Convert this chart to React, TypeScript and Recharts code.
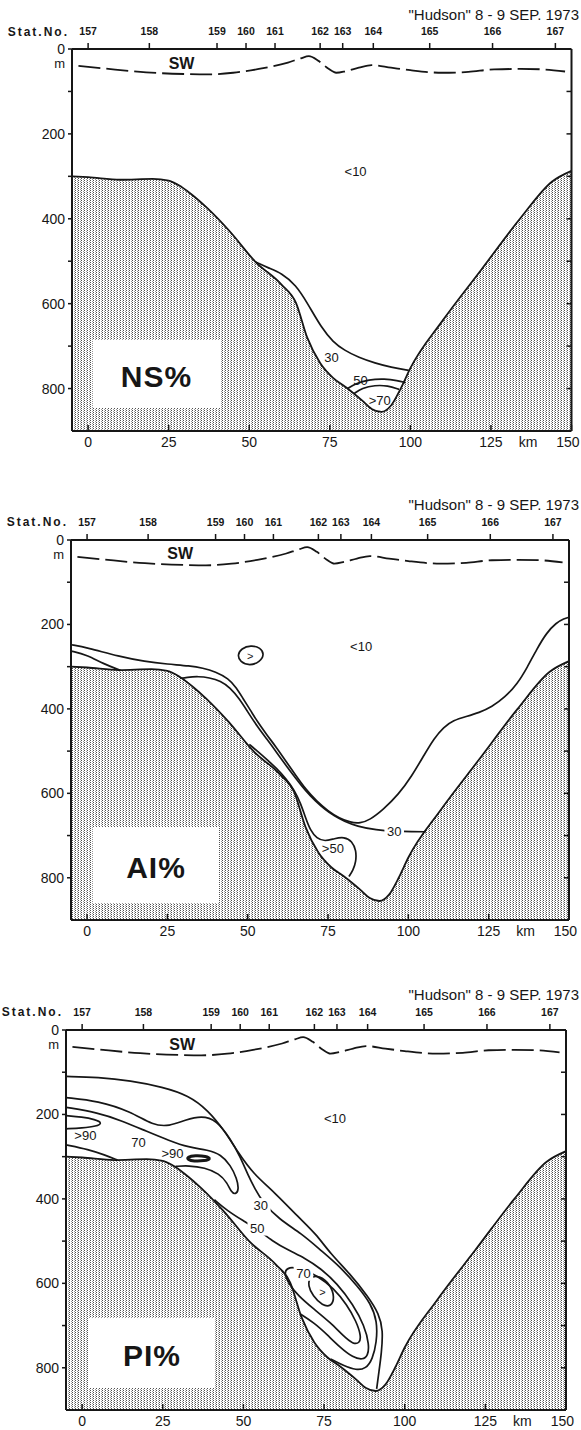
import { ComposedChart, Area, Line, Scatter, XAxis, YAxis } from "recharts"

const FONT = '"Liberation Sans", Arial, Helvetica, sans-serif'
const INK = "#161616"

// axes
const kmTicks = [0, 25, 50, 75, 100, 125, 150]
const KM_UNIT = 136.5
const depthTicks = [0, 100, 200, 300, 400, 500, 600, 700, 800]
const depthLabelled = [0, 200, 400, 600, 800]
const stationKm = [0, 19, 40, 49, 58, 72, 79, 88.5, 106, 125.5, 145]
const stationNo = ["157", "158", "159", "160", "161", "162", "163", "164", "165", "166", "167"]

// bottom topography (km, depth m)
const bottomKm = [-5, 0, 10, 20, 25, 29, 33, 37, 44, 52, 60, 64.5, 68, 72, 76, 80, 85, 88, 91, 94, 97, 100, 110, 122, 134, 144, 150]
const bottomDepth = [300, 302, 308, 306, 310, 325, 348, 375, 430, 502, 555, 598, 680, 740, 775, 797, 828, 848, 855, 840, 800, 752, 640, 520, 400, 312, 287]

// surface water boundary (dashed)
const swKm = [-3, 5, 18, 30, 37, 45, 53, 62, 66, 68.5, 71.5, 74.5, 77, 80, 84, 88, 94, 100, 110, 118, 126, 134, 141, 148]
const swDepth = [40, 46, 55, 59, 60, 56, 47, 32, 22, 17, 28, 46, 56, 52, 44, 38, 44, 50, 56, 54, 48, 47, 48, 53]

// NS % isolines  [km, depth]
const ns30 = [[52, 502], [56, 516], [60, 528], [64.5, 556], [68, 598], [72.5, 658], [76, 690], [79.5, 710], [84, 727], [89, 740], [94, 750], [99.5, 757]]
const ns50 = [[80.5, 800], [83, 788], [87, 779], [92, 777], [96, 781], [98.5, 786]]
const ns70 = [[82.5, 812], [85, 799], [89, 792], [93, 793], [96.5, 802]]
const nsLabels = [
  { km: 83, d: 288, t: "<10" },
  { km: 75.5, d: 726, t: "30" },
  { km: 84.5, d: 781, t: "50" },
  { km: 90.5, d: 828, t: ">70" },
  { km: 29, d: 34, t: "SW" },
]

// AI % isolines
const ai10 = [[-5, 248], [0, 255], [10, 276], [18, 288], [25, 294], [32, 298], [36, 303], [40, 312], [44, 328], [46.5, 350], [48.5, 375], [51, 405], [53, 430], [56, 462], [59, 492], [62, 525], [65, 558], [68, 590], [71.5, 619], [75, 642], [78.5, 659], [82, 669], [85, 671], [88, 663], [92, 640], [97, 602], [101, 560], [105, 508], [108, 470], [111, 443], [114, 427], [118, 418], [122, 409], [126, 395], [130, 373], [134, 340], [137, 302], [140, 258], [143, 220], [146, 196], [148.5, 186], [150, 183]]
const ai30a = [[-5, 263], [0, 272], [5, 293], [10.5, 309]]
const ai30 = [[29, 328], [31, 325], [34.7, 323], [38, 326], [41.6, 334], [44.5, 350], [47.4, 376], [50, 407], [53, 442], [56, 472], [59, 503], [62, 535], [65, 565], [68, 594], [71, 618], [74, 638], [77, 654], [80, 666], [84, 678], [90, 687], [96, 690], [101, 691], [105.5, 691]]
const ai50 = [[50.5, 484], [53, 500], [56, 520], [59, 541], [62, 566], [64.5, 592], [66.5, 624], [68, 658], [69.5, 688], [71.5, 707], [74, 714], [77, 707], [80, 703], [82.5, 713], [83.8, 736], [83.7, 762], [82.8, 782], [81.5, 797]]
const aiLoop = [[46.8, 272], [48, 257], [51, 249], [54, 255], [55.2, 271], [53.8, 289], [50.6, 298], [47.6, 289]]
const aiLabels = [
  { km: 85.3, d: 252, t: "<10" },
  { km: 95.6, d: 690, t: "30" },
  { km: 76.5, d: 731, t: ">50" },
  { km: 50.8, d: 274, t: ">" },
  { km: 29, d: 31, t: "SW" },
]

// PI % isolines
const pi10 = [[-5, 110], [5, 112], [15, 120], [25, 135], [33, 155], [39, 190], [44, 237], [48.5, 292], [53, 340], [60, 387], [67, 443], [72.5, 483], [77, 530], [83, 577], [88.7, 632], [92, 672], [93.3, 711], [92.8, 765], [92, 810], [91.3, 850]]
const pi30 = [[-5, 160], [5, 168], [15, 193], [22, 226], [27, 228], [32, 213], [37, 203], [41.6, 213], [46, 258], [49, 300], [51.5, 345], [53.5, 375], [56, 408], [61, 448], [68, 482], [74, 522], [80, 561], [85.5, 608], [89.5, 648], [91.5, 690], [91.3, 740], [90, 780], [88, 802], [85, 806], [81, 795], [77, 779]]
const pi50 = [[41, 402], [45, 428], [50, 452], [54.3, 472], [59, 500], [64, 522], [69, 540], [74, 565], [79, 600], [84, 650], [87.5, 700], [89, 745], [88.6, 772], [87, 781], [84, 776], [80, 752], [76, 722], [72, 694], [67.5, 672]]
const pi70 = [[64, 560], [68, 566], [73, 582], [78, 612], [82, 650], [85, 690], [86.5, 725], [86, 742], [84, 744], [81, 725], [77, 693], [72, 662], [67, 630], [64, 600], [62.5, 575]]
const pi70hook = [[-5, 183], [5, 196], [12, 214], [20, 240], [27, 262], [33, 278], [39, 284], [43, 295], [46, 320], [48, 352], [48.6, 378], [47.6, 390], [46.2, 384], [45, 362], [42.5, 340], [38, 326], [33, 321], [29, 323]]
const piLowLeft = [[-5, 272], [2, 283], [7, 296], [11, 308]]
const pi90Left = [[-5, 203], [0, 206], [4, 212], [6.3, 220], [4.5, 228], [0, 232], [-5, 234]]
const pi90Mid = [[32.5, 301], [35, 297], [38.5, 299], [40, 305], [38, 310], [34.5, 311], [32.8, 307]]
const pi90Slope = [[70.5, 585], [73.5, 581], [77, 603], [78.3, 634], [77.2, 655], [74.5, 653], [71.5, 630], [70, 605]]
const piLabels = [
  { km: 78.4, d: 208, t: "<10" },
  { km: 1, d: 249, t: ">90" },
  { km: 17.5, d: 267, t: "70" },
  { km: 28, d: 292, t: ">90" },
  { km: 55.4, d: 415, t: "30" },
  { km: 54.3, d: 470, t: "50" },
  { km: 68.6, d: 577, t: "70" },
  { km: 74.5, d: 620, t: ">" },
  { km: 31, d: 33, t: "SW" },
]

const rows = (km: number[], d: number[]) => km.map((k, i) => ({ km: k, d: d[i] }))
const pts = (p: number[][]) => p.map(([km, d]) => ({ km, d }))
const bottomRows = rows(bottomKm, bottomDepth)
const swRows = rows(swKm, swDepth)

type Contour = { p: number[][]; closed?: boolean; w?: number }
type PanelCfg = {
  top: number
  height: number
  left: number
  right: number
  frameTop: number
  frameBottom: number
  contours: Contour[]
  labels: { km: number; d: number; t: string }[]
  masked: string[]
  box: { x: number; y: number; w: number; h: number; text: string }
}

const panels: PanelCfg[] = [
  {
    top: 0, height: 460, left: 72, right: 571.5, frameTop: 49, frameBottom: 431,
    contours: [{ p: ns30 }, { p: ns50 }, { p: ns70 }],
    labels: nsLabels, masked: [],
    box: { x: 93, y: 340, w: 127, h: 68, text: "NS%" },
  },
  {
    top: 490, height: 460, left: 71, right: 569, frameTop: 540, frameBottom: 920,
    contours: [{ p: ai10 }, { p: ai30a }, { p: ai30 }, { p: ai50 }, { p: aiLoop, closed: true }],
    labels: aiLabels, masked: ["30"],
    box: { x: 93, y: 827, w: 126, h: 76, text: "AI%" },
  },
  {
    top: 980, height: 450, left: 66, right: 566, frameTop: 1030, frameBottom: 1410,
    contours: [
      { p: pi10 }, { p: pi30 }, { p: pi50 }, { p: pi70, closed: true }, { p: pi70hook },
      { p: piLowLeft }, { p: pi90Left }, { p: pi90Mid, closed: true, w: 3 }, { p: pi90Slope, closed: true },
    ],
    labels: piLabels, masked: ["30", "50", "70"],
    box: { x: 89, y: 1318, w: 126, h: 70, text: "PI%" },
  },
]

const labelStyle = (t: string) =>
  t === "SW" ? { size: 16, weight: 700 } : t === ">" ? { size: 11, weight: 400 } : { size: 13, weight: 400 }

function TextMark(props: any) {
  const { cx, cy, payload, bg } = props
  const s = labelStyle(payload.t)
  const w = payload.t.length * s.size * 0.6 + 4
  return (
    <g>
      {bg && <rect x={cx - w / 2} y={cy - s.size * 0.55} width={w} height={s.size * 1.1} fill="#fff" />}
      <text x={cx} y={cy + s.size * 0.36} textAnchor="middle" fontSize={s.size} fontWeight={s.weight} fill={INK}>
        {payload.t}
      </text>
    </g>
  )
}

const BottomTick = (p: any) => {
  const v = p.payload.value
  if (v === KM_UNIT)
    return <text x={p.x} y={p.y + 16} textAnchor="middle" fontSize={14} fill={INK}>km</text>
  const last = v === kmTicks[kmTicks.length - 1]
  return (
    <g>
      <line x1={p.x} x2={p.x} y1={p.y} y2={p.y - 6} stroke={INK} strokeWidth={1.5} />
      <text x={last ? p.x + 8 : p.x} y={p.y + 16} textAnchor={last ? "end" : "middle"} fontSize={14} fill={INK}>
        {v}
      </text>
    </g>
  )
}

const TopTick = (p: any) => (
  <text x={p.x} y={p.y - 6} textAnchor="middle" fontSize={10.5} fontWeight={700} fill={INK}>
    {stationNo[stationKm.indexOf(p.payload.value)]}
  </text>
)

const LeftTick = (p: any) => {
  const v = p.payload.value
  if (!depthLabelled.includes(v)) return <g />
  return (
    <g>
      <text x={p.x} y={p.y + 5} textAnchor="end" fontSize={14} fill={INK}>{v}</text>
      {v === 0 && <text x={p.x} y={p.y + 19} textAnchor="end" fontSize={13} fill={INK}>m</text>}
    </g>
  )
}

const RightTick = (p: any) =>
  p.payload.value === 0 ? <g /> : <line x1={p.x - 5} x2={p.x} y1={p.y} y2={p.y} stroke={INK} strokeWidth={1.5} />

function Panel({ cfg, id }: { cfg: PanelCfg; id: string }) {
  // axes take 1px each (a 0px axis is not drawn), so margins are reduced by 1
  const margin = {
    top: cfg.frameTop - cfg.top - 1,
    bottom: cfg.top + cfg.height - cfg.frameBottom - 1,
    left: cfg.left - 1,
    right: 581 - cfg.right - 1,
  }
  const frame = { stroke: INK, strokeWidth: 2 }
  return (
    <div style={{ position: "absolute", left: 0, top: cfg.top, width: 581, height: cfg.height }}>
      <ComposedChart width={581} height={cfg.height} margin={margin}>
        <defs>
          <pattern id={`stip-${id}`} width={3} height={2} patternUnits="userSpaceOnUse">
            <rect width={3} height={2} fill="#fff" />
            <rect width={1} height={1} fill="#505050" />
            <rect x={2} y={1} width={1} height={1} fill="#9a9a9a" />
          </pattern>
        </defs>
        <XAxis xAxisId="km" dataKey="km" type="number" domain={[-5, 150]} allowDataOverflow
          ticks={[...kmTicks, KM_UNIT]} interval={0} height={1} tickSize={0} tickMargin={0}
          tickLine={false} axisLine={frame} tick={BottomTick} />
        <XAxis xAxisId="st" dataKey="km" type="number" orientation="top" domain={[-5, 150]} allowDataOverflow
          ticks={stationKm} interval={0} height={1} tickSize={6} tickMargin={2}
          tickLine={{ stroke: INK, strokeWidth: 1.5 }} axisLine={frame} tick={TopTick} />
        <YAxis yAxisId="d" dataKey="d" type="number" reversed domain={[0, 900]} allowDataOverflow
          ticks={depthTicks} interval={0} width={1} tickSize={4} tickMargin={3}
          tickLine={{ stroke: INK, strokeWidth: 1.5 }} axisLine={frame} tick={LeftTick} />
        <YAxis yAxisId="r" dataKey="d" type="number" orientation="right" reversed domain={[0, 900]} allowDataOverflow
          ticks={depthTicks} interval={0} width={1} tickSize={0} tickMargin={0}
          tickLine={false} axisLine={frame} tick={RightTick} />
        <Area xAxisId="km" yAxisId="d" data={bottomRows} dataKey="d" type="monotone" baseValue={900}
          fill={`url(#stip-${id})`} fillOpacity={1} stroke={INK} strokeWidth={1.8}
          dot={false} activeDot={false} isAnimationActive={false} />
        <Line xAxisId="st" yAxisId="r" data={swRows} dataKey="d" type="monotone" stroke={INK}
          strokeWidth={1.8} strokeDasharray="22 6" dot={false} activeDot={false} isAnimationActive={false} />
        {cfg.contours.map((c, i) => (
          <Line key={i} xAxisId="km" yAxisId="d" data={pts(c.p)} dataKey="d"
            type={c.closed ? "basisClosed" : "basis"} stroke={INK} strokeWidth={c.w ?? 1.7}
            dot={false} activeDot={false} isAnimationActive={false} />
        ))}
        <Scatter xAxisId="km" yAxisId="d" data={cfg.labels} dataKey="d" isAnimationActive={false}
          shape={(p: any) => <TextMark {...p} bg={cfg.masked.includes(p.payload.t)} />} />
      </ComposedChart>

      <div style={{ position: "absolute", right: 2, top: 6, fontSize: 15, lineHeight: "18px", whiteSpace: "nowrap" }}>
        "Hudson" 8 - 9 SEP. 1973
      </div>
      <div style={{ position: "absolute", right: 581 - (cfg.left - 3), top: 25, fontSize: 12, lineHeight: "15px",
        fontWeight: 700, letterSpacing: 2, whiteSpace: "nowrap" }}>
        Stat.No.
      </div>
      <div style={{ position: "absolute", left: cfg.box.x, top: cfg.box.y - cfg.top, width: cfg.box.w,
        height: cfg.box.h, background: "#fff", display: "flex", alignItems: "center", justifyContent: "center",
        fontSize: 30, fontWeight: 700, paddingTop: 6, boxSizing: "border-box", letterSpacing: 1 }}>
        {cfg.box.text}
      </div>
    </div>
  )
}

export default function App() {
  return (
    <div style={{ position: "absolute", left: 0, top: 0, width: 581, height: 1430, background: "#fff",
      fontFamily: FONT, color: INK, overflow: "hidden" }}>
      {panels.map((cfg, i) => (
        <Panel key={i} cfg={cfg} id={`p${i}`} />
      ))}
    </div>
  )
}
